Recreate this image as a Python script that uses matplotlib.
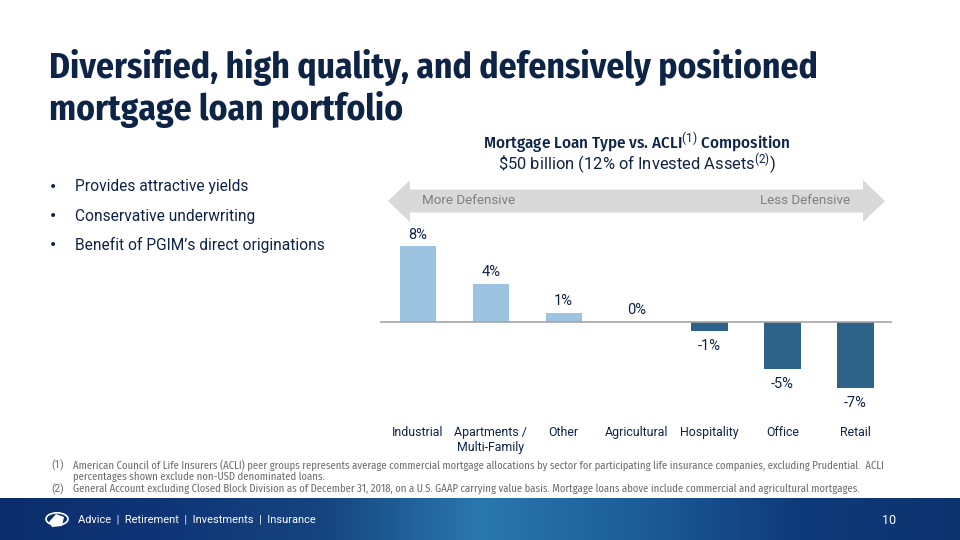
import numpy as np
import matplotlib
matplotlib.use("Agg")
import matplotlib.pyplot as plt
from matplotlib.patches import FancyArrow, Circle, Polygon
from matplotlib.colors import LinearSegmentedColormap

plt.rcParams['font.family'] = ['Roboto', 'DejaVu Sans']
plt.rcParams['mathtext.fontset'] = 'custom'
plt.rcParams['mathtext.rm'] = 'Roboto'
plt.rcParams['mathtext.default'] = 'rm'

# data
categories = ["Industrial", "Apartments /\nMulti-Family", "Other", "Agricultural",
              "Hospitality", "Office", "Retail"]
values = [8, 4, 1, 0, -1, -5, -7]
labels = ["8%", "4%", "1%", "0%", "-1%", "-5%", "-7%"]

bullets = ["Provides attractive yields",
           "Conservative underwriting",
           "Benefit of PGIM\u2019s direct originations"]

footnotes = [
    ("(1)", "American Council of Life Insurers (ACLI) peer groups represents average commercial mortgage allocations by sector for participating life insurance companies, excluding Prudential.  ACLI"),
    ("", "percentages shown exclude non-USD denominated loans."),
    ("(2)", "General Account excluding Closed Block Division as of December 31, 2018, on a U.S. GAAP carrying value basis. Mortgage loans above include commercial and agricultural mortgages."),
]

navy = "#0d2446"
light = "#9cc3df"
dark = "#2d6389"
W, H = 960, 540
title_font = ['Fira Sans Condensed', 'DejaVu Sans']
note_font = ['Fira Sans Condensed', 'DejaVu Sans']


def px(x, y):
    return x / W, 1 - y / H


def fit(t, width_px):
    # scale font so the text spans the given width
    r = fig.canvas.get_renderer()
    w = t.get_window_extent(r).width
    t.set_fontsize(t.get_fontsize() * width_px / w)
    return t.get_fontsize()


fig = plt.figure(figsize=(9.6, 5.4), dpi=100)
fig.patch.set_facecolor("white")

# title
t1 = fig.text(*px(49, 67), "Diversified, high quality, and defensively positioned",
              fontsize=26, fontweight="bold", color=navy, va="center", family=title_font)
t2 = fig.text(*px(49, 110), "mortgage loan portfolio",
              fontsize=26, fontweight="bold", color=navy, va="center", family=title_font)
t2.set_fontsize(fit(t1, 766))

# bullets
for i, b in enumerate(bullets):
    y = 187 + 29 * i
    fig.text(*px(49, y), "\u2022", fontsize=10, color=navy, va="center",
             family="DejaVu Sans")
    tb = fig.text(*px(75, y), b, fontsize=12, color=navy, va="center")
    if i == 0:
        bsize = fit(tb, 172)
    else:
        tb.set_fontsize(bsize)

# chart title
tt = fig.text(*px(637, 143), "Mortgage Loan Type vs. ACLI$^{(1)}$ Composition",
              fontsize=12, color=navy, ha="center", va="center", fontweight="medium",
              family=['Fira Sans Condensed', 'DejaVu Sans'])
fit(tt, 308)
ts = fig.text(*px(637, 164), r"\$50 billion (12% of Invested Assets$^{(2)}$)",
              fontsize=10.5, color=navy, ha="center", va="center")
fit(ts, 280)

# arrow band
arr_ax = fig.add_axes([0, 0, 1, 1])
arr_ax.set_xlim(0, W)
arr_ax.set_ylim(H, 0)
arr_ax.axis("off")
for dx in (248, -249):
    arr_ax.add_patch(FancyArrow(637, 201, dx, 0, width=23, head_width=42,
                                head_length=22, length_includes_head=True,
                                color="#d9d9d9", lw=0))
tm = arr_ax.text(422, 201, "More Defensive", fontsize=11, color="#7f7f7f", va="center")
asize = fit(tm, 93)
arr_ax.text(850, 201, "Less Defensive", fontsize=asize, color="#7f7f7f",
            va="center", ha="right")

# bar chart
ax = fig.add_axes([380 / W, (H - 400) / H, 512 / W, 165 / H])
x = np.arange(len(categories))
cols = [light if v >= 0 else dark for v in values]
ax.bar(x, values, width=0.5, color=cols, zorder=2)
ax.axhline(0, color="#a6a6a6", lw=1.2, zorder=3)
ax.set_xlim(-0.52, 6.5)
ax.set_ylim(-8.25, 9.2)
ax.axis("off")
vsize = None
for xi, v, lab in zip(x, values, labels):
    if v >= 0:
        tv = ax.text(xi, v + 0.5, lab, ha="center", va="bottom", fontsize=10.5, color=navy)
    else:
        tv = ax.text(xi, v - 0.8, lab, ha="center", va="top", fontsize=10.5, color=navy)
    if vsize is None:
        vsize = fit(tv, 19)
    else:
        tv.set_fontsize(vsize)
ctexts = []
for xi, c in zip(x, categories):
    ctexts.append(ax.text(xi, -11.0, c, ha="center", va="top", fontsize=10, color=navy,
                          linespacing=1.15, clip_on=False))
csize = fit(ctexts[3], 63)
for tc in ctexts:
    tc.set_fontsize(csize)

# footnotes
for i, (num, f) in enumerate(footnotes):
    y = 465 + 12 * i
    fig.text(*px(51, y), num, fontsize=7.3, color="#6b6b6b", va="center",
             family="Roboto")
    tf = fig.text(*px(73, y), f, fontsize=7.3, color="#6b6b6b", va="center",
                  family=note_font)
    if i == 0:
        nsize = fit(tf, 814)
    else:
        tf.set_fontsize(nsize)

# footer band
band = fig.add_axes([0, 0, 1, 42 / H])
g = np.linspace(0, 1, 256)
cmap = LinearSegmentedColormap.from_list("band", ["#0b2d6b", "#0f3577", "#15447f",
                                                  "#2a78ae", "#1c5d98", "#0f3a7a",
                                                  "#0d336f"])
band.imshow(np.vstack([g, g]), aspect="auto", cmap=cmap, extent=[0, 1, 0, 1])
band.axis("off")
fig.add_artist(Circle(px(57, 519), 11 / W, transform=fig.transFigure,
                      facecolor="none", edgecolor="white", lw=1.2))
fig.add_artist(Polygon([px(49, 522), px(56, 514), px(64, 517), px(62, 526), px(52, 527)],
                       closed=True, transform=fig.transFigure, facecolor="white", lw=0))
tfo = fig.text(*px(78, 519), "Advice  |  Retirement  |  Investments  |  Insurance",
               fontsize=8.5, color="white", va="center")
fit(tfo, 232)
fig.text(*px(896, 521), "10", fontsize=9, color="white", va="center", ha="right")

fig.savefig("out.png", dpi=100)
